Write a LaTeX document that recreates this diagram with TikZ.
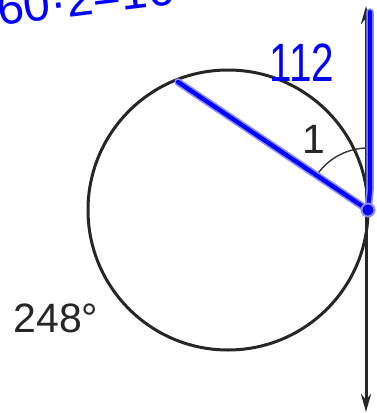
\documentclass[tikz,border=0pt]{standalone}
\usepackage{fontspec}
\setmainfont{Liberation Sans}
\usetikzlibrary{arrows.meta}
\tikzset{
  blackline/.style={line width=3pt, draw=black!85},
  ink/.style={line width=4.2pt, draw=blue, line cap=round, line join=round,
    preaction={draw=blue!45, line width=7.5pt, line cap=round}},
  lbl/.style={text=black!85, font=\fontsize{41}{41}\selectfont, inner sep=0pt},
}
\begin{document}
\begin{tikzpicture}[x=1pt,y=-1pt]
\useasboundingbox (0,0) rectangle (377,413);
\clip (0,0) rectangle (377,413);
\fill[white] (0,0) rectangle (377,413);
% circle
\coordinate (O) at (228,210);
\draw[blackline] (O) circle[radius=140];
% tangent line
\coordinate (T) at (368,210);
\coordinate (Ttop) at (366,6);
\coordinate (Tbot) at (366,412);
\draw[blackline, {Stealth[length=18pt,width=10pt]}-{Stealth[length=18pt,width=10pt]}] (Ttop) -- (Tbot);
% angle arc
\draw[line width=1.4pt, black!80] ([shift={(90:-62)}]T) arc[start angle=-90, end angle=-146, radius=62];
\node[lbl] (one) at (314,139) {1};
% blue chord and tangent overlay
\coordinate (A) at (178,82);
\draw[ink] (A) -- (T);
\coordinate (Tb) at (370,12);
\draw[ink] (Tb) -- (370,190) -- (T);
\fill[blue, draw=blue!45, line width=2pt] (T) circle[radius=6.5];
% labels
\node[lbl] (arc) at (56,318) {248°};
\node[text=blue, font=\fontsize{54}{54}\selectfont, xscale=0.75] (n112) at (302,63) {112};
\node[text=blue, font=\fontsize{48}{48}\selectfont, anchor=base west, rotate=7] (top) at (-4,26) {60·2=16};
\end{tikzpicture}
\end{document}
